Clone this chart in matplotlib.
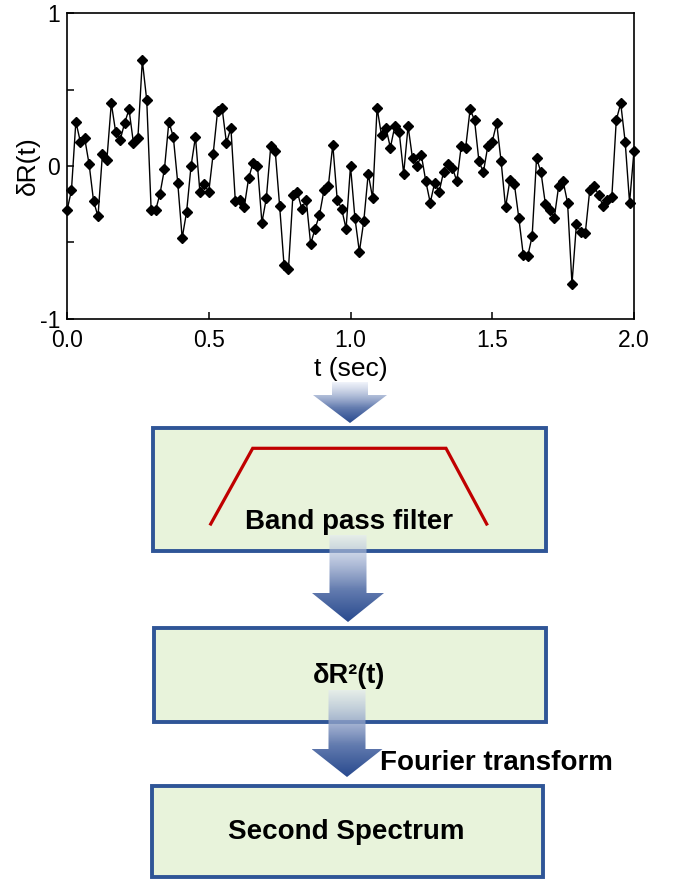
import matplotlib
matplotlib.use("Agg")
import matplotlib.pyplot as plt
import numpy as np
from matplotlib.patches import Polygon, Rectangle
from matplotlib.ticker import MultipleLocator

plt.rcParams['font.family'] = ['Liberation Sans', 'DejaVu Sans']
plt.rcParams['axes.unicode_minus'] = False

# resistance fluctuation trace, sampled at 64 Hz over 2 s
dR = [-0.29, -0.16, 0.29, 0.16, 0.18, 0.01, -0.23, -0.33, 0.08, 0.04,
      0.41, 0.22, 0.17, 0.28, 0.37, 0.15, 0.18, 0.69, 0.43, -0.29,
      -0.29, -0.18, -0.02, 0.29, 0.19, -0.11, -0.47, -0.30, 0.00, 0.19,
      -0.17, -0.12, -0.17, 0.08, 0.36, 0.38, 0.15, 0.25, -0.23, -0.22,
      -0.27, -0.08, 0.02, 0.00, -0.37, -0.21, 0.13, 0.10, -0.26, -0.65,
      -0.67, -0.19, -0.17, -0.28, -0.22, -0.51, -0.41, -0.32, -0.16, -0.13,
      0.14, -0.22, -0.28, -0.41, 0.00, -0.34, -0.56, -0.36, -0.05, -0.21,
      0.38, 0.20, 0.25, 0.12, 0.26, 0.22, -0.05, 0.26, 0.05, 0.00,
      0.07, -0.10, -0.24, -0.11, -0.17, -0.04, 0.01, -0.01, -0.10, 0.13,
      0.12, 0.37, 0.30, 0.03, -0.04, 0.13, 0.16, 0.28, 0.03, -0.27,
      -0.09, -0.12, -0.34, -0.58, -0.59, -0.46, 0.05, -0.04, -0.25, -0.29,
      -0.34, -0.13, -0.10, -0.24, -0.77, -0.38, -0.43, -0.44, -0.16, -0.13,
      -0.19, -0.26, -0.22, -0.20, 0.30, 0.41, 0.16, -0.24, 0.10]
t = np.linspace(0, 2.0, len(dR))

xticks = [0.0, 0.5, 1.0, 1.5, 2.0]
xticklabels = ['0.0', '0.5', '1.0', '1.5', '2.0']
yticks = [-1, 0, 1]
yticklabels = ['-1', '0', '1']

W, H = 683, 882
fig = plt.figure(figsize=(W / 100, H / 100), dpi=100)

#-------------trace--------------------
ax = fig.add_axes([67 / W, 1 - 319 / H, (634 - 67) / W, (319 - 13) / H])
ax.plot(t, dR, '-', color='black', lw=1.0, marker='D', ms=4.6,
        mfc='black', mec='black', clip_on=False)
ax.set_xlim(0, 2.0)
ax.set_ylim(-1, 1)
ax.set_xticks(xticks)
ax.set_xticklabels(xticklabels)
ax.set_yticks(yticks)
ax.set_yticklabels(yticklabels)
ax.yaxis.set_minor_locator(MultipleLocator(0.5))
ax.tick_params(which='both', direction='in', labelsize=16.5, width=1.1)
ax.tick_params(which='major', length=5)
ax.tick_params(which='minor', length=5)
ax.tick_params(axis='x', pad=7)
ax.tick_params(axis='y', pad=5)
for s in ax.spines.values():
    s.set_linewidth(1.2)
ax.set_xlabel('t (sec)', fontsize=19, labelpad=4)
ax.set_ylabel('δR(t)', fontsize=19, labelpad=0)

#-------------flow chart (pixel coordinates)--------------------
fa = fig.add_axes([0, 0, 1, 1], zorder=5)
fa.patch.set_visible(False)
fa.axis('off')

box_fc = '#e8f3db'
box_ec = '#2f5597'
boxes = [(152.7, 427.7, 393.3, 123.0),
         (154.0, 627.7, 392.0, 94.6),
         (151.7, 786.0, 391.3, 91.0)]
for x0, y0, w, h in boxes:
    fa.add_patch(Rectangle((x0, y0), w, h, fc=box_fc, ec=box_ec, lw=2.8, zorder=2))

# band pass shape
fa.plot([210.7, 252.7, 446.0, 486.7], [524, 448.3, 448.3, 524],
        color='#c00000', lw=2.3, solid_joinstyle='miter', zorder=2.5)


def arrow(xc, top, base, tip, sw, hw):
    pts = [(xc - sw / 2, top), (xc + sw / 2, top), (xc + sw / 2, base),
           (xc + hw / 2, base), (xc, tip), (xc - hw / 2, base), (xc - sw / 2, base)]
    poly = Polygon(pts, closed=True, fc='none', ec='none')
    fa.add_patch(poly)
    g = np.linspace(0, 1, 256)[:, None]
    c0 = np.array([0.90, 0.92, 0.97])
    c1 = np.array([0.16, 0.29, 0.56])
    f = g ** 0.8
    rgb = c0 + (c1 - c0) * f[..., None]
    alpha = 0.5 + 0.5 * np.clip(g * 1.6, 0, 1)
    img = np.concatenate([rgb, alpha[..., None]], axis=2)
    img = np.repeat(img, 4, axis=1)
    im = fa.imshow(img, extent=[xc - hw / 2, xc + hw / 2, tip, top],
                   aspect='auto', zorder=3, interpolation='bilinear')
    im.set_clip_path(poly)


arrow(350, 382, 395, 423, 36, 74)
arrow(348, 535, 593, 622, 37, 72)
arrow(347, 690, 749, 777, 37, 71)

fa.text(349, 522, 'Band pass filter', fontsize=20, fontweight='bold',
        ha='center', va='center', zorder=4)
fa.text(349, 676, 'δR²(t)', fontsize=19.5, fontweight='bold',
        ha='center', va='center', zorder=4)
fa.text(380, 763, 'Fourier transform', fontsize=20, fontweight='bold',
        ha='left', va='center', zorder=4)
fa.text(346, 832, 'Second Spectrum', fontsize=20, fontweight='bold',
        ha='center', va='center', zorder=4)

fa.set_xlim(0, W)
fa.set_ylim(H, 0)

fig.savefig('out.png', dpi=100)
